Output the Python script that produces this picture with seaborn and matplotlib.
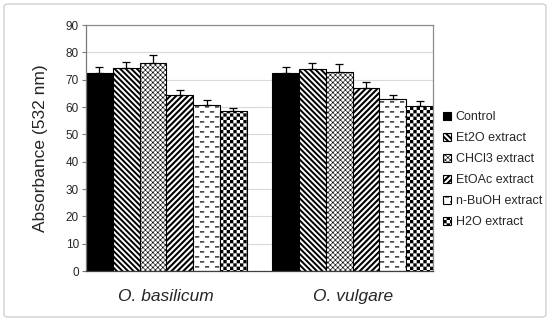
import numpy as np
import pandas as pd
import matplotlib
matplotlib.use("Agg")
import matplotlib.pyplot as plt
import matplotlib.hatch as mhatch
from matplotlib.path import Path
from matplotlib.patches import FancyBboxPatch
import seaborn as sns

# ---------------- data ----------------
species = ["O. basilicum", "O. vulgare"]
extracts = ["Control", "Et2O extract", "CHCl3 extract", "EtOAc extract",
            "n-BuOH extract", "H2O extract"]
basilicum_means = [72.4, 74.1, 76.2, 64.4, 60.8, 58.5]
basilicum_err = [2.3, 2.5, 2.8, 1.9, 1.8, 1.3]
vulgare_means = [72.4, 73.8, 72.7, 67.1, 63.1, 60.5]
vulgare_err = [2.3, 2.4, 2.9, 2.2, 1.4, 1.6]
y_ticks = [0, 10, 20, 30, 40, 50, 60, 70, 80, 90]
y_label = "Absorbance (532 nm)"

# ---------------- custom hatch patterns (filled shapes) ----------------
M, L, C = Path.MOVETO, Path.LINETO, Path.CLOSEPOLY


class _Polys(mhatch.HatchPatternBase):
    char = None

    def __init__(self, hatch, density):
        self.polys = self.make() if (self.char in hatch) else []
        self.num_vertices = 5 * len(self.polys)

    def set_vertices_and_codes(self, vertices, codes):
        for i, poly in enumerate(self.polys):
            vertices[5 * i:5 * i + 5] = poly
            codes[5 * i:5 * i + 5] = [M, L, L, L, C]


def _ne(N, frac):
    p = 1.0 / N
    w = frac * p
    out = []
    for k in range(-N, N + 1):
        c = k * p
        out.append([(c, 0), (c + w, 0), (c + w + 1, 1), (c + 1, 1), (c, 0)])
    return out


def _nw(N, frac):
    p = 1.0 / N
    w = frac * p
    out = []
    for k in range(0, 2 * N + 1):
        c = k * p
        out.append([(c, 0), (c + w, 0), (c + w - 1, 1), (c - 1, 1), (c, 0)])
    return out


class NEStripes(_Polys):
    char = "/"

    def make(self):
        return _ne(17, 0.5)


class NWStripes(_Polys):
    char = "\\"

    def make(self):
        return _nw(18, 0.5)


class CrossThin(_Polys):
    char = "x"

    def make(self):
        return _ne(20, 0.17) + _nw(20, 0.17)


class Checker(_Polys):
    char = "o"

    def make(self):
        n = 30
        s = 1.0 / n
        out = []
        for i in range(n):
            for j in range(n):
                if (i + j) % 2 == 0:
                    x0, y0 = i * s, j * s
                    out.append([(x0, y0), (x0 + s, y0), (x0 + s, y0 + s),
                                (x0, y0 + s), (x0, y0)])
        return out


class Dashes(_Polys):
    char = "-"

    def make(self):
        R, D = 20, 10
        h = 0.012
        dl = 0.042
        out = []
        for r in range(R):
            y0 = (r + 0.5) / R
            off = 0.5 / D if r % 2 else 0.0
            for d in range(D + 1):
                x0 = d / D + off - 0.5 / D
                out.append([(x0, y0), (x0 + dl, y0), (x0 + dl, y0 + h),
                            (x0, y0 + h), (x0, y0)])
        return out


mhatch._hatch_types = [NEStripes, NWStripes, CrossThin, Checker, Dashes]

# ---------------- style ----------------
sns.set_theme(style="white")
plt.rcParams["font.family"] = ["Liberation Sans", "DejaVu Sans"]
plt.rcParams["hatch.linewidth"] = 0.01
plt.rcParams["hatch.color"] = "black"

df = pd.DataFrame({
    "species": [s for s in species for _ in extracts],
    "extract": extracts * len(species),
    "value": basilicum_means + vulgare_means,
    "err": basilicum_err + vulgare_err,
})

fig = plt.figure(figsize=(5.5, 3.21), dpi=100)
ax = fig.add_axes([86 / 550, 50 / 321, 347 / 550, 246 / 321])

group_w = 0.863
palette = {e: ("black" if e == "Control" else "white") for e in extracts}
sns.barplot(data=df, x="species", y="value", hue="extract", order=species,
            hue_order=extracts, palette=palette, width=group_w, gap=0,
            dodge=True, errorbar=None, edgecolor="black", linewidth=0.8,
            legend=False, ax=ax, zorder=2)

hatches = ["", "\\", "x", "/", "-", "o"]
bar_containers = list(ax.containers)[:len(extracts)]
for cont, h in zip(bar_containers, hatches):
    for p in cont.patches:
        p.set_hatch(h)
        if hasattr(p, "set_hatch_linewidth"):
            p.set_hatch_linewidth(0.01)

# error bars (upper only)
err_lookup = {(r.species, r.extract): r.err for r in df.itertuples()}
for cont, ext in zip(bar_containers, extracts):
    xs, ys, es = [], [], []
    for p, sp in zip(cont.patches, species):
        xs.append(p.get_x() + p.get_width() / 2)
        ys.append(p.get_height())
        es.append(err_lookup[(sp, ext)])
    ax.errorbar(xs, ys, yerr=[np.zeros(len(es)), es], fmt="none",
                ecolor="black", elinewidth=0.9, capsize=2.9, capthick=0.9,
                zorder=3)

ax.set_xlim(-group_w / 2, 1 + group_w / 2)
ax.set_ylim(0, 90)
ax.set_yticks(y_ticks)
ax.set_yticklabels([str(t) for t in y_ticks])
ax.yaxis.grid(True, color="#d9d9d9", linewidth=0.8)
ax.set_axisbelow(True)
ax.set_xlabel("")
ax.set_ylabel(y_label, fontsize=12.5, labelpad=13)

for side in ["top", "right"]:
    ax.spines[side].set_color("#8c8c8c")
    ax.spines[side].set_linewidth(0.9)
ax.spines["left"].set_color("#7a7a7a")
ax.spines["left"].set_linewidth(0.9)
ax.spines["bottom"].set_color("#404040")
ax.spines["bottom"].set_linewidth(0.9)

ax.tick_params(axis="y", length=3, width=0.8, color="#7a7a7a",
               labelsize=8.5, pad=2, left=True, direction="out")
ax.tick_params(axis="x", length=0, labelsize=12.5, pad=13)
for t in ax.get_xticklabels():
    t.set_fontstyle("italic")

# legend
handles = [c.patches[0] for c in bar_containers]
leg = fig.legend(handles, extracts, loc="center left",
                 bbox_to_anchor=(443 / 550, 1 - 170 / 321), frameon=False,
                 fontsize=9, handlelength=0.65, handleheight=0.65,
                 handletextpad=0.35, labelspacing=0.72, borderpad=0,
                 borderaxespad=0)

# outer chart border
frame = FancyBboxPatch((4 / 550, 4 / 321), 542 / 550, 313 / 321,
                       boxstyle="round,pad=0,rounding_size=0.008",
                       transform=fig.transFigure, facecolor="none",
                       edgecolor="#d0d0d0", linewidth=1.0)
fig.add_artist(frame)

fig.savefig("out.png", dpi=100)
